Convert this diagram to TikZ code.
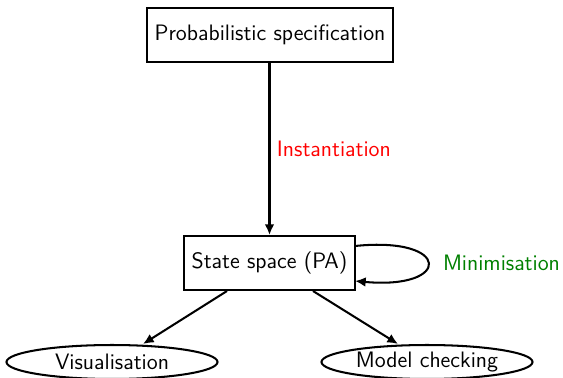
\documentclass[tikz,border=0pt]{standalone}
\usetikzlibrary{shapes.geometric,arrows.meta}
\begin{document}
\begin{tikzpicture}[x=0.515pt,y=-0.515pt,
  font=\fontsize{11.5}{13.5}\sffamily,
  box/.style={draw,line width=1.05pt,inner sep=0pt,minimum height=27.8pt},
  oval/.style={draw,ellipse,line width=1.05pt,inner sep=0pt,minimum width=108.7pt,minimum height=17.5pt},
  arr/.style={-{Latex[length=5.5pt,width=5pt]},line width=1.05pt}]
\useasboundingbox (0,0) rectangle (563,378);
\node[box,minimum width=126.7pt] (p) at (270,35) {Probabilistic specification};
\node[box,minimum width=88.1pt] (s) at (269.5,263) {State space (PA)};
\node[oval] (v) at (112,362) {Visualisation};
\node[oval] (m) at (427,362) {Model checking};
\draw[arr] (p.south -| s.north) -- node[right=0pt,text=red]{Instantiation} (s.north);
\coordinate (l1) at (355,246);
\coordinate (l2) at (355,281);
\draw[arr] (l1) .. controls (452,236) and (452,290) .. node[right=4pt,text=green!50!black]{Minimisation} (l2);
\draw[arr] (s.south -| 227,0) -- (v.north -| 143,0);
\draw[arr] (s.south -| 313,0) -- (m.north -| 398,0);
\end{tikzpicture}
\end{document}
